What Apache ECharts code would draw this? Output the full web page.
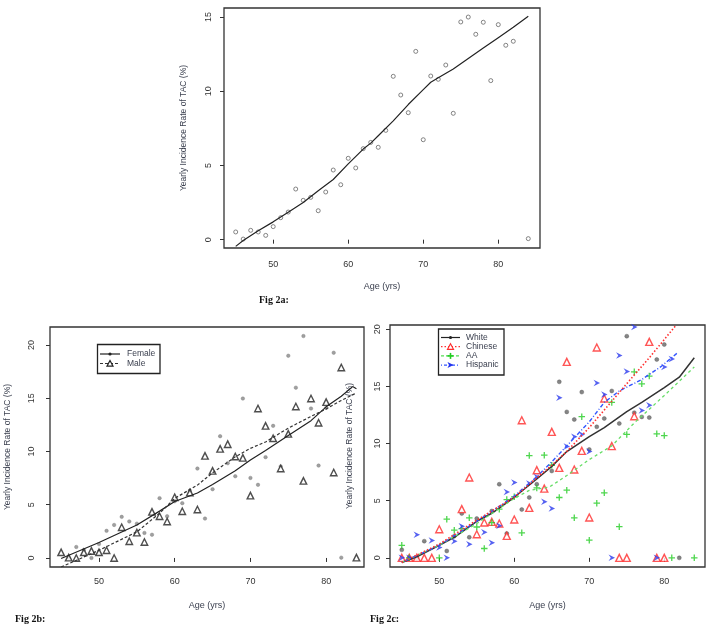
<!DOCTYPE html>
<html>
<head>
<meta charset="utf-8">
<script src="https://cdn.jsdelivr.net/npm/echarts@6/dist/echarts.min.js"></script>
<style>html,body{margin:0;padding:0;background:#fff}#c{width:714px;height:631px}</style>
</head>
<body>
<div id="c"></div>
<script>
// ---------- Fig 2a ----------
const ageA = [45,46,47,48,49,50,51,52,53,54,55,56,57,58,59,60,61,62,63,64,65,66,67,68,69,70,71,72,73,74,75,76,77,78,79,80,81,82,84];
const rateA = [0.52,0.04,0.63,0.52,0.29,0.88,1.48,1.86,3.41,2.65,2.85,1.95,3.21,4.69,3.70,5.48,4.83,6.13,6.55,6.22,7.36,11.0,9.74,8.55,12.68,6.73,11.02,10.80,11.76,8.51,14.66,14.99,13.83,14.64,10.71,14.48,13.09,13.36,0.07];
const fitAgeA = [45,46,48,50,52,54,56,58,60,62,63,64,66,68,70,71,72,74,76,78,80,82,84];
const fitA = [-0.45,-0.05,0.6,1.2,1.85,2.5,3.3,4.05,5.1,6.1,6.5,7.0,8.0,9.1,10.1,10.6,10.9,11.5,12.2,12.9,13.6,14.3,15.05];

// ---------- Fig 2b ----------
const ageMale = [45,46,47,48,49,50,51,52,53,54,55,56,57,58,59,60,61,62,63,64,65,66,67,68,69,70,71,72,73,74,75,76,77,78,79,80,81,82,84];
const rateMale = [0.53,0.03,0,0.53,0.66,0.53,0.72,0,2.88,1.57,2.38,1.5,4.33,3.92,3.42,5.7,4.39,6.14,4.55,9.59,8.18,10.25,10.69,9.53,9.40,5.86,14.04,12.41,11.25,8.40,11.66,14.23,7.24,14.98,12.70,14.64,8.03,17.9,0.03];
const ageFemale = [46,47,48,49,50,51,52,53,54,55,56,57,58,59,60,61,62,63,64,65,66,67,68,69,70,71,72,73,74,75,76,77,78,79,80,81,82];
const rateFemale = [0,1.03,0.75,0,1.3,2.55,3.1,3.86,3.43,3.22,2.35,2.18,5.62,3.92,5.33,5.15,6.3,8.4,3.7,6.46,11.44,8.9,7.68,14.98,7.52,6.87,9.47,12.41,8.6,19.0,16.0,20.85,14.04,8.68,14.1,19.28,0.03];
const fitAgeFemale = [45,50,55,58,60,63,65,68,70,72,75,78,80,82,83.5,84];
const fitFemale = [-0.05,1.45,3.1,4.4,5.3,6.1,6.9,8.2,9.2,10.1,11.5,12.9,14.2,15.2,16.1,15.9];
const fitAgeMale = [45,50,55,58,60,63,65,68,70,72,75,78,80,82,84];
const fitMale = [-0.85,0.72,2.45,4.2,5.6,6.84,8.0,9.5,10.3,10.9,12.2,13.3,14.0,14.8,15.5];

// ---------- Fig 2c ----------
const ageWhite = [45,46,47,48,51,52,53,54,55,57,58,59,61,62,63,65,66,67,68,69,70,71,72,73,74,75,76,77,78,79,80,82];
const rateWhite = [0.7,0,0,1.46,0.6,1.9,3.88,1.8,3.44,4.1,6.44,2.13,4.23,5.28,6.44,7.6,15.4,12.77,12.1,14.5,9.48,11.46,12.19,14.6,11.75,19.39,12.7,12.33,12.27,17.35,18.66,0];
const ageChinese = [45,46,47,48,49,50,53,54,55,56,57,58,59,60,61,62,63,64,65,66,67,68,69,70,71,72,73,74,75,76,78,79,80];
const rateChinese = [0,0,0,0,0,2.5,4.26,7.03,2.07,3.09,3.15,3.0,1.92,3.35,12.04,4.37,7.67,6.06,11.02,7.87,17.14,7.73,9.36,3.53,18.4,13.94,9.77,0,0,12.39,18.89,0,0];
const ageAA = [45,46,50,51,52,53,54,55,56,57,58,59,60,61,62,63,64,65,66,67,68,69,70,71,72,73,74,75,76,77,78,79,80,81,84];
const rateAA = [1.1,0,0,3.38,2.42,2.56,3.5,2.7,0.82,3.09,4.26,5.1,5.34,2.19,8.95,6.12,8.98,8.1,5.28,5.92,3.5,12.35,1.55,4.78,5.69,13.6,2.73,10.8,16.27,15.22,15.9,10.85,10.7,0,0];
const ageHisp = [45,46,47,49,50,51,52,53,54,56,57,58,59,60,62,63,64,65,66,67,68,69,70,71,72,73,74,75,76,77,78,79,80,81];
const rateHisp = [0,0,2.02,1.52,0.9,0,1.46,2.77,1.2,2.24,1.32,2.8,5.77,6.6,6.5,7.08,4.9,4.32,14.0,9.75,10.6,10.8,9.3,15.3,14.3,0,17.7,16.3,20.2,12.9,13.36,0,16.7,17.4];
const fitAgeWhite = [45,47,50,52,55,57,60,63,65,67,70,72,75,77,80,82,84];
const fitWhite = [-0.4,0.1,1.1,1.8,3.2,3.9,5.3,6.9,8.0,9.3,10.6,11.4,12.8,13.6,14.9,15.8,17.5];
const fitAgeChinese = [45,50,55,60,63,65,67,70,73,76,78,81.5];
const fitChinese = [-0.4,1.2,3.3,5.3,7.0,8.1,9.3,11.4,13.7,16.0,17.5,20.3];
const fitAgeAA = [45,50,55,60,62,64.7,67,70,73,76,80,84];
const fitAA = [-0.4,1.1,3.0,5.2,5.9,6.2,7.2,8.6,9.8,11.8,14.2,16.7];
const fitAgeHisp = [45,50,55,60,63,65,67,70,72,74,77,79.5,81.7];
const fitHisp = [-0.4,1.1,3.2,5.4,7.1,8.4,9.8,11.9,13.6,14.6,15.6,16.7,17.9];

// ---------- tick labels / text ----------
const xTicks = [50,60,70,80];
const yTicksA = [0,5,10,15];
const yTicksBC = [0,5,10,15,20];
const yTitle = 'Yearly Incidence Rate of TAC (%)';
const xTitle = 'Age (yrs)';
const legendB = ['Female','Male'];
const legendC = ['White','Chinese','AA','Hispanic'];
const figLabels = ['Fig 2a:','Fig 2b:','Fig 2c:'];

const zip = (xs, ys) => xs.map((x, i) => [x, ys[i]]);
const FONT = 'Liberation Sans, Arial, sans-serif';
const labelColor = '#333';
const titleColor = '#3c4150';
const PLUS = 'path://M4,0H6V4H10V6H6V10H4V6H0V4H4Z';
const ARROW = 'path://M0,0L10,5L0,10L3.5,5Z';

function xAxisDef(grid, min, max, margin) {
  return {
    type: 'value', gridIndex: grid, min: min, max: max,
    name: xTitle, nameLocation: 'middle', nameGap: 34,
    nameTextStyle: {fontSize: 9, color: titleColor, fontFamily: FONT},
    axisLine: {show: false},
    axisTick: {show: true, length: 4, customValues: xTicks, lineStyle: {color: '#333', width: 1}},
    axisLabel: {customValues: xTicks, fontSize: 9, color: labelColor, margin: margin, fontFamily: FONT},
    splitLine: {show: false}
  };
}
function yAxisDef(grid, min, max, ticks, margin, gap) {
  return {
    type: 'value', gridIndex: grid, min: min, max: max,
    name: yTitle, nameLocation: 'middle', nameRotate: 90, nameGap: gap,
    nameTextStyle: {fontSize: 8.5, color: titleColor, fontFamily: FONT},
    axisLine: {show: false},
    axisTick: {show: true, length: 4, customValues: ticks, lineStyle: {color: '#333', width: 1}},
    axisLabel: {customValues: ticks, fontSize: 9, color: labelColor, margin: margin, rotate: 90, fontFamily: FONT},
    splitLine: {show: false}
  };
}
function scatter(idx, data, symbol, size, fill, stroke, bw) {
  return {type: 'scatter', xAxisIndex: idx, yAxisIndex: idx, data: data, symbol: symbol, symbolSize: size,
    itemStyle: {color: fill, borderColor: stroke, borderWidth: bw}, z: 2, silent: true, animation: false};
}
function line(idx, data, color, width, dash) {
  return {type: 'line', xAxisIndex: idx, yAxisIndex: idx, data: data, showSymbol: false, symbol: 'none',
    lineStyle: {color: color, width: width, type: dash}, z: 3, silent: true, animation: false, clip: true};
}

// legend drawing helpers (graphic)
function legendGraphics(box, rows, entries) {
  const g = [{type: 'rect', shape: box, style: {fill: '#fff', stroke: '#222', lineWidth: 1.3}, z: 10}];
  entries.forEach((e, i) => {
    const y = rows.y0 + i * rows.dy;
    g.push({type: 'line', shape: {x1: rows.lx1, y1: y, x2: rows.lx2, y2: y},
      style: {stroke: e.color, lineWidth: 1.2, lineDash: e.dash}, z: 11});
    const cx = (rows.lx1 + rows.lx2) / 2;
    if (e.marker === 'dot') g.push({type: 'circle', shape: {cx: cx, cy: y, r: 1.6}, style: {fill: e.mcolor}, z: 12});
    if (e.marker === 'tri') g.push({type: 'polygon', shape: {points: [[cx - 3, y + 2.6], [cx + 3, y + 2.6], [cx, y - 3]]}, style: {fill: '#fff', stroke: e.mcolor, lineWidth: 1.2}, z: 12});
    if (e.marker === 'plus') {
      g.push({type: 'rect', shape: {x: cx - 3, y: y - 0.8, width: 6, height: 1.6}, style: {fill: e.mcolor}, z: 12});
      g.push({type: 'rect', shape: {x: cx - 0.8, y: y - 3, width: 1.6, height: 6}, style: {fill: e.mcolor}, z: 12});
    }
    if (e.marker === 'arrow') g.push({type: 'polygon', shape: {points: [[cx - 3, y - 3], [cx + 3, y], [cx - 3, y + 3], [cx - 1.5, y]]}, style: {fill: e.mcolor}, z: 12});
    g.push({type: 'text', x: rows.tx, y: y, style: {text: e.name, fill: '#3c4150', font: '8.5px ' + FONT, verticalAlign: 'middle', align: 'left'}, z: 12});
  });
  return g;
}

const graphics = [].concat(
  legendGraphics({x: 97.5, y: 344.5, width: 62.5, height: 29}, {y0: 354, dy: 9.5, lx1: 100, lx2: 120, tx: 127}, [
    {name: legendB[0], color: '#222', dash: null, marker: 'dot', mcolor: '#222'},
    {name: legendB[1], color: '#333', dash: [3, 2], marker: 'tri', mcolor: '#222'}
  ]),
  legendGraphics({x: 438.5, y: 329, width: 65.5, height: 46}, {y0: 337.5, dy: 9.2, lx1: 441, lx2: 460, tx: 466}, [
    {name: legendC[0], color: '#222', dash: null, marker: 'dot', mcolor: '#222'},
    {name: legendC[1], color: '#ff3030', dash: [1.5, 2], marker: 'tri', mcolor: '#ff3030'},
    {name: legendC[2], color: '#55dd55', dash: [3, 2], marker: 'plus', mcolor: '#22cc22'},
    {name: legendC[3], color: '#3355ff', dash: [1, 2, 3, 2], marker: 'arrow', mcolor: '#2233ee'}
  ]),
  [
    {type: 'text', x: 259, y: 300, style: {text: figLabels[0], fill: '#111', font: 'bold 10px "Liberation Serif", serif', verticalAlign: 'middle'}},
    {type: 'text', x: 15, y: 619, style: {text: figLabels[1], fill: '#111', font: 'bold 10px "Liberation Serif", serif', verticalAlign: 'middle'}},
    {type: 'text', x: 370, y: 619, style: {text: figLabels[2], fill: '#111', font: 'bold 10px "Liberation Serif", serif', verticalAlign: 'middle'}}
  ]
);

const gridStyle = {show: true, borderColor: '#333', borderWidth: 1.3, backgroundColor: 'transparent', containLabel: false};
const option = {
  backgroundColor: '#fff',
  animation: false,
  textStyle: {fontFamily: FONT},
  grid: [
    Object.assign({left: 224, top: 8, width: 316, height: 240}, gridStyle),
    Object.assign({left: 50, top: 327, width: 314, height: 240}, gridStyle),
    Object.assign({left: 390, top: 325, width: 315, height: 242}, gridStyle)
  ],
  xAxis: [
    xAxisDef(0, 43.44, 85.56, 12),
    xAxisDef(1, 43.53, 85.0, 10),
    xAxisDef(2, 43.43, 85.43, 10)
  ],
  yAxis: [
    yAxisDef(0, -0.56, 15.6, yTicksA, 11, 36),
    yAxisDef(1, -0.85, 21.7, yTicksBC, 14, 38),
    yAxisDef(2, -0.8, 20.37, yTicksBC, 8, 36)
  ],
  series: [
    scatter(0, zip(ageA, rateA), 'circle', 4, '#fff', '#666', 1),
    line(0, zip(fitAgeA, fitA), '#222', 1.2, 'solid'),

    scatter(1, zip(ageFemale, rateFemale), 'circle', 3.5, '#888', '#777', 0.5),
    scatter(1, zip(ageMale, rateMale), 'triangle', 6.5, '#fff', '#222', 1.4),
    line(1, zip(fitAgeFemale, fitFemale), '#222', 1.2, 'solid'),
    line(1, zip(fitAgeMale, fitMale), '#333', 1.2, [3, 2]),

    scatter(2, zip(ageWhite, rateWhite), 'circle', 4, '#666', '#555', 0.5),
    scatter(2, zip(ageChinese, rateChinese), 'triangle', 7, '#fff', '#ff2a2a', 1.4),
    scatter(2, zip(ageAA, rateAA), PLUS, 6.5, '#22cc22', '#22cc22', 0),
    scatter(2, zip(ageHisp, rateHisp), ARROW, 6.5, '#2a3aee', '#2a3aee', 0),
    line(2, zip(fitAgeWhite, fitWhite), '#333', 1.5, 'solid'),
    line(2, zip(fitAgeAA, fitAA), '#66dd66', 1.3, [3, 3]),
    line(2, zip(fitAgeHisp, fitHisp), '#3355ff', 1.4, [1, 2, 4, 2]),
    line(2, zip(fitAgeChinese, fitChinese), '#ff3030', 1.6, [1.5, 2])
  ],
  graphic: graphics
};
const chart = echarts.init(document.getElementById('c'), null, {renderer: 'canvas'});
chart.setOption(option);
</script>
</body>
</html>
